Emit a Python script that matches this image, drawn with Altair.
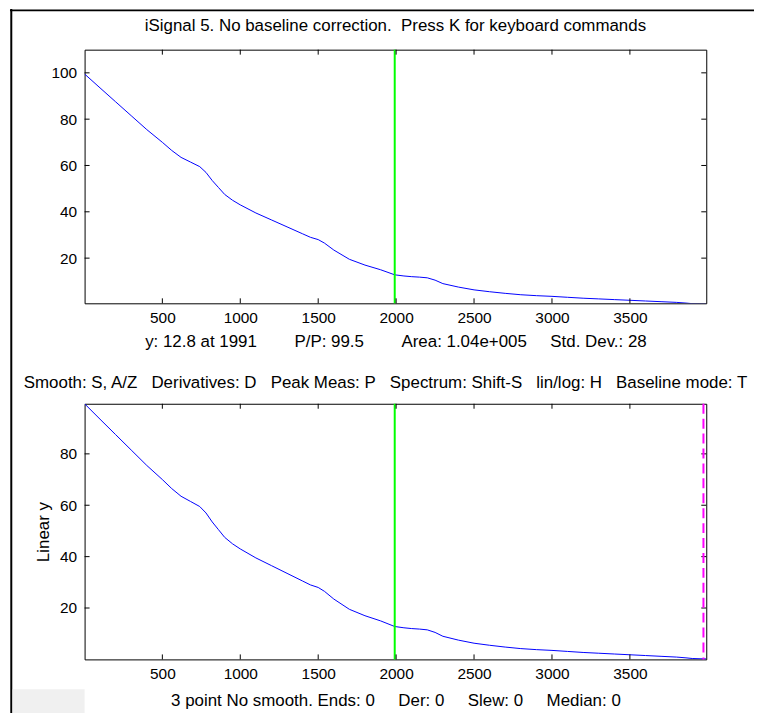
import altair as alt
import pandas as pd

# ---- data ----
x_vals = [1, 100, 200, 300, 400, 500, 560, 620, 680, 740, 780, 820, 860, 900, 950,
          1000, 1100, 1200, 1300, 1400, 1450, 1500, 1540, 1600, 1700, 1800, 1900,
          1991, 2050, 2100, 2150, 2200, 2250, 2300, 2400, 2500, 2600, 2700, 2800,
          2900, 3000, 3100, 3200, 3300, 3400, 3500, 3600, 3700, 3800, 3860, 3900,
          3950, 3990]
y_vals = [99.5, 93.5, 87.5, 81.5, 75.5, 70.0, 66.5, 63.5, 61.5, 59.5, 57.0, 53.5,
          50.5, 47.5, 45.0, 43.0, 39.5, 36.5, 33.5, 30.5, 29.0, 28.0, 26.5, 23.5,
          19.5, 17.0, 15.0, 12.8, 12.3, 12.0, 11.8, 11.5, 10.5, 9.0, 7.5, 6.3, 5.5,
          4.8, 4.2, 3.8, 3.5, 3.1, 2.7, 2.4, 2.1, 1.8, 1.5, 1.2, 0.9, 0.6, 0.35,
          0.25, 0.2]
cursor_x = [1991]
marker_x = [3972]
x_ticks = [500, 1000, 1500, 2000, 2500, 3000, 3500]
top_y_ticks = [20, 40, 60, 80, 100]
bot_y_ticks = [20, 40, 60, 80]
x_domain = [1, 3990]
top_y_domain = [0.5, 110]
bot_y_domain = [0, 99.5]

NB = "\u00a0"


def sp(n):
    return NB * n


title_top = "iSignal 5. No baseline correction." + sp(2) + "Press K for keyboard commands"
xtitle_top = ("y: 12.8 at 1991" + sp(8) + "P/P: 99.5" + sp(8) + "Area: 1.04e+005"
              + sp(5) + "Std. Dev.: 28")
title_bot = sp(3).join(["Smooth: S, A/Z", "Derivatives: D", "Peak Meas: P",
                        "Spectrum: Shift-S", "lin/log: H", "Baseline mode: T"])
xtitle_bot = sp(5).join(["3 point No smooth. Ends: 0", "Der: 0", "Slew: 0",
                         "Median: 0"])
ytitle_bot = "Linear y"

FONT = "Liberation Sans"
FS_TXT = 17
FS_LAB = 15.5
W = 625
H1 = 255
H2 = 257
TL = 5  # inward tick length

df = pd.DataFrame({"x": x_vals, "y": y_vals})
df_one = pd.DataFrame({"x": cursor_x})
df_marker = pd.DataFrame({"x": marker_x})
df_xt = pd.DataFrame({"x": x_ticks})


def txt(text, xpos, ypos):
    return alt.Chart(df_one).mark_text(
        font=FONT, fontSize=FS_TXT, color="black", align="center",
        baseline="middle", clip=False,
    ).encode(text=alt.value(text), x=alt.value(xpos), y=alt.value(ypos))


def panel(ydom, h, yticks, xtitle, ytitle, xtp, extra):
    xs = alt.Scale(domain=x_domain, nice=False, zero=False)
    ys = alt.Scale(domain=ydom, nice=False, zero=False)
    yaxis = alt.Axis(values=yticks, ticks=False, domain=False, grid=False,
                     labelPadding=8, labelFont=FONT, labelFontSize=FS_LAB,
                     labelColor="black", title=ytitle, titleFont=FONT,
                     titleFontSize=FS_TXT, titleFontWeight="normal",
                     titleColor="black", titlePadding=7)
    xaxis = alt.Axis(values=x_ticks, format="d", ticks=False, domain=False,
                     grid=False, labelPadding=7, labelFont=FONT,
                     labelFontSize=FS_LAB, labelColor="black", title=xtitle,
                     titleFont=FONT, titleFontSize=FS_TXT,
                     titleFontWeight="normal", titleColor="black",
                     titlePadding=xtp)
    line = alt.Chart(df).mark_line(color="#0000ff", strokeWidth=1, clip=True).encode(
        x=alt.X("x:Q", scale=xs, axis=xaxis),
        y=alt.Y("y:Q", scale=ys, axis=yaxis),
    )
    cur = alt.Chart(df_one).mark_rule(color="#00ff00", strokeWidth=2).encode(
        x=alt.X("x:Q", scale=xs))
    dyt = pd.DataFrame({"y": yticks})
    xt_b = alt.Chart(df_xt).mark_rule(color="black").encode(
        x=alt.X("x:Q", scale=xs), y=alt.value(h), y2=alt.value(h - TL))
    xt_t = alt.Chart(df_xt).mark_rule(color="black").encode(
        x=alt.X("x:Q", scale=xs), y=alt.value(0), y2=alt.value(TL))
    yt_l = alt.Chart(dyt).mark_rule(color="black").encode(
        y=alt.Y("y:Q", scale=ys), x=alt.value(0), x2=alt.value(TL))
    yt_r = alt.Chart(dyt).mark_rule(color="black").encode(
        y=alt.Y("y:Q", scale=ys), x=alt.value(W - TL), x2=alt.value(W))
    layers = [line, cur, xt_b, xt_t, yt_l, yt_r] + extra
    return alt.layer(*layers).properties(width=W, height=h)


# decorations: window frame (top + left) and grey corner box
frame_left = alt.Chart(df_one).mark_rule(color="black", strokeWidth=2).encode(
    x=alt.value(-73.7), y=alt.value(-41), y2=alt.value(720))
frame_top = alt.Chart(df_one).mark_rule(color="black", strokeWidth=2).encode(
    x=alt.value(-75), x2=alt.value(720), y=alt.value(-39.5))
marker = alt.Chart(df_marker).mark_rule(color="#ff00ff", strokeWidth=2,
                                        strokeDash=[10, 5]).encode(
    x=alt.X("x:Q", scale=alt.Scale(domain=x_domain, nice=False, zero=False)))
corner = alt.Chart(df_one).mark_rect(color="#f0f0f0").encode(
    x=alt.value(-72.3), x2=alt.value(0), y=alt.value(287), y2=alt.value(330))

top = panel(top_y_domain, H1, top_y_ticks, xtitle_top, "", 8,
            [frame_left, frame_top, txt(title_top, W / 2, -24)])
bot = panel(bot_y_domain, H2, bot_y_ticks, xtitle_bot, ytitle_bot, 11,
            [marker, corner, txt(title_bot, W / 2 - 10, -21)])

chart = alt.vconcat(top, bot, spacing=101, bounds="flush").properties(
    autosize=alt.AutoSizeParams(type="none"),
    padding={"left": 77, "top": 40, "right": 48, "bottom": 665},
    background="white",
).configure_view(stroke="black", strokeWidth=1)

chart.save("out.html", embed_options={"renderer": "svg", "actions": False})
